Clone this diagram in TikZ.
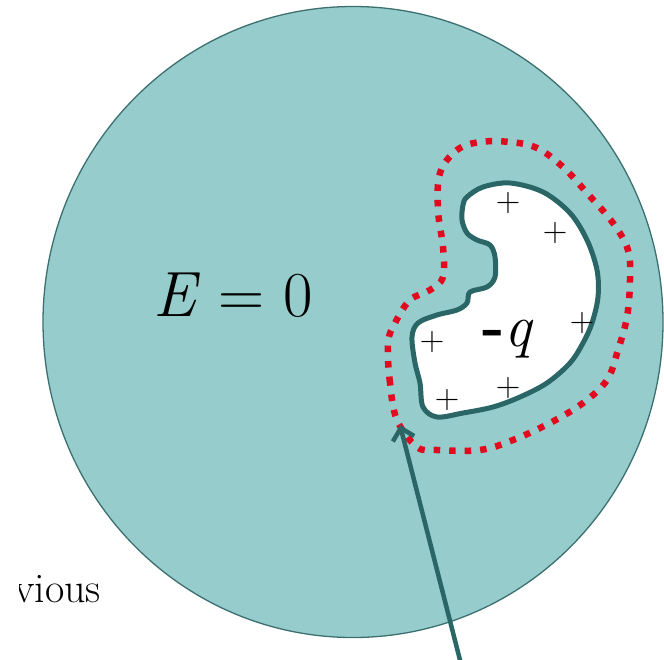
\documentclass[tikz,border=0pt]{standalone}
\usetikzlibrary{arrows.meta}
\definecolor{condfill}{RGB}{150,204,204}
\definecolor{condedge}{RGB}{60,112,112}
\definecolor{cavedge}{RGB}{42,102,102}
\definecolor{gaussred}{RGB}{225,10,30}
\tikzset{
  conductor/.style={fill=condfill, draw=condedge, line width=1.3pt},
  cavity/.style={fill=white, draw=cavedge, line width=5pt, line join=round},
  gauss/.style={draw=gaussred, line width=6.5pt, dash pattern=on 6.5pt off 9pt},
  plussign/.style={inner sep=0pt, font=\fontsize{34}{34}\selectfont},
  pointer/.style={draw=cavedge, line width=4.5pt, -{Straight Barb[length=11pt,width=22pt,line width=4.5pt]}},
}
\begin{document}
\begin{tikzpicture}[x=1pt,y=-1pt]
\useasboundingbox (0,0) rectangle (664,659);
% conductor
\draw[conductor] (353,322) ellipse [x radius=310, y radius=315.5];
% cavity
\draw[cavity] plot[smooth cycle, tension=0.55] coordinates {
 (467,197) (483,187) (510,183) (543,192) (570,213) (587,240) (597,270)
 (598,297) (592,323) (583,343) (570,363) (547,383) (520,397) (493,407)
 (463,413) (437,417) (423,407) (420,383) (415,363) (412,337) (418,323)
 (437,315) (457,310) (467,303) (470,292) (487,287) (495,277) (495,257)
 (490,245) (477,240) (467,233) (462,220) (463,205)};
% Gaussian surface
\draw[gauss] plot[smooth cycle, tension=0.6] coordinates {
 (397,420) (390,383) (388,343) (395,323) (410,300) (430,290) (443,277)
 (443,247) (438,210) (440,173) (457,150) (480,142) (510,142) (537,148)
 (563,167) (587,193) (613,223) (628,250) (630,280) (627,317) (618,350)
 (607,380) (583,403) (550,423) (513,440) (480,450) (437,450) (417,447)};
% texts
\node[anchor=base, inner sep=0pt, font=\fontsize{64}{64}\selectfont] (efield) at (233,316) {\textit{E}\hspace{0.29em}=\hspace{0.29em}0};
\node[anchor=base, inner sep=0pt, font=\fontsize{60}{60}\selectfont] (charge) at (508,346) {\textbf{-}\textit{q}};
\node[plussign] (p1) at (508,203) {+};
\node[plussign] (p2) at (555,233) {+};
\node[plussign] (p3) at (582,323) {+};
\node[plussign] (p4) at (432,342) {+};
\node[plussign] (p5) at (508,388) {+};
\node[plussign] (p6) at (447,400) {+};
\begin{scope}
\clip (19,540) rectangle (200,640);
\node[anchor=base west, inner sep=0pt, font=\fontsize{42}{42}\selectfont] (prev) at (14,602) {vious};
\end{scope}
% pointer
\coordinate (ptail) at (461,664);
\coordinate (ptip) at (400,425);
\draw[pointer] (ptail) -- (ptip);
\end{tikzpicture}
\end{document}
